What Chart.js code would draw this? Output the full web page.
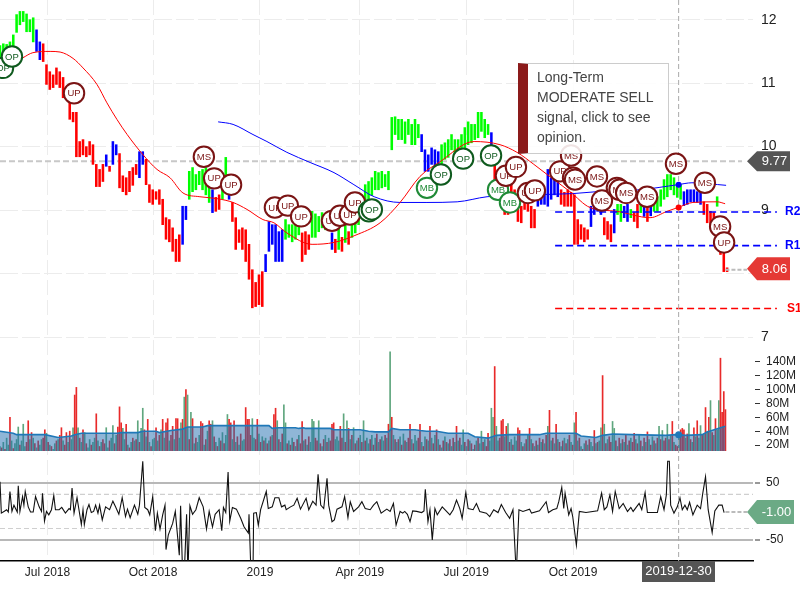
<!DOCTYPE html>
<html>
<head>
<meta charset="utf-8">
<title>Long-Term signal chart</title>
<style>
html, body { margin: 0; padding: 0; background: #fff; }
#wrap { position: relative; width: 800px; height: 600px; overflow: hidden; }
#opinion { position: absolute; left: 518px; top: 63px; width: 131px; height: 86px; padding: 3px 0 0 9px; border: 1px solid #ccc; border-left: 10px solid #8b1a1a; background: rgba(255,255,255,0.88); font: 14px/20px "Liberation Sans", Arial, sans-serif; color: #444; box-sizing: content-box; }
</style>
</head>
<body>
<div id="wrap">
<canvas id="chart" width="800" height="600"></canvas>
<div id="opinion">Long-Term<br>MODERATE SELL<br>signal, click to see<br>opinion.</div>
</div>
<script src="https://cdn.jsdelivr.net/npm/chart.js@4/dist/chart.umd.min.js"></script>
<script>
// x axis is counted in trading days from the left edge
const xTickDays = [28.6, 92.2, 156.6, 216.8, 280.8, 345.2];
const xTickLabels = ['Jul 2018', 'Oct 2018', '2019', 'Apr 2019', 'Jul 2019', 'Oct 2019'];
const lastDay = 453.6;
const cursorDay = 408.8;

// price bars, one every second trading day
const highs = [
  11.59,11.62,11.61,11.65,11.76,12.08,12.13,12.13,12.09,12.00,
  12.03,11.84,11.65,11.62,11.29,11.18,11.13,11.24,11.18,11.09,
  10.90,10.69,10.54,10.54,10.08,10.11,10.00,10.08,10.03,9.72,
  9.64,9.72,9.87,9.69,10.08,10.03,9.89,9.54,9.51,9.61,
  9.67,9.72,9.92,9.92,9.80,9.40,9.32,9.29,9.32,9.17,
  8.88,8.85,8.72,8.54,8.61,9.06,9.06,9.61,9.67,9.56,
  9.61,9.64,9.67,9.51,9.32,9.20,9.24,9.43,9.83,9.51,
  9.12,8.88,8.69,8.72,8.69,8.46,8.06,7.86,7.98,8.03,
  8.30,8.82,8.77,8.77,8.66,8.69,8.85,8.77,8.77,8.82,
  8.80,8.64,8.66,8.61,8.98,8.94,8.90,8.96,8.93,8.88,
  8.64,8.54,8.77,8.57,8.77,8.66,8.93,8.98,9.09,9.24,
  9.40,9.45,9.51,9.61,9.59,9.61,9.56,9.61,10.46,10.47,
  10.43,10.43,10.39,10.43,10.35,10.43,10.35,10.19,9.95,9.87,
  9.98,9.95,9.92,10.03,10.06,10.11,10.19,10.11,10.11,10.19,
  10.30,10.39,10.35,10.35,10.54,10.54,10.43,10.35,10.22,9.72,
  9.64,9.56,9.32,9.24,9.48,9.32,9.17,9.06,9.32,9.24,
  9.06,9.01,9.21,9.24,9.32,9.64,9.51,9.56,9.48,9.32,
  9.28,9.32,9.28,9.24,8.85,8.77,8.72,8.69,9.06,9.09,
  9.09,9.09,8.88,8.82,8.77,9.01,9.09,9.09,9.06,9.09,
  9.01,8.96,9.09,9.17,9.09,9.06,9.09,9.17,9.21,9.32,
  9.48,9.56,9.56,9.51,9.40,9.40,9.29,9.32,9.32,9.32,
  9.29,9.32,9.13,9.09,8.98,8.96,9.21,8.77,8.33,8.09
];
const lows = [
  11.34,11.40,11.37,11.50,11.56,11.80,11.92,11.97,11.81,11.81,
  11.65,11.50,11.37,11.34,10.98,10.90,10.93,10.98,10.93,10.77,
  10.74,10.43,10.39,9.84,9.84,9.87,9.84,9.87,9.72,9.37,
  9.37,9.45,9.69,9.61,9.72,9.87,9.35,9.29,9.24,9.29,
  9.39,9.56,9.51,9.72,9.40,9.12,9.09,9.17,9.09,8.77,
  8.54,8.50,8.35,8.19,8.19,8.46,8.85,9.17,9.29,9.32,
  9.40,9.32,9.24,9.12,8.96,8.98,9.01,9.17,9.51,9.17,
  8.82,8.38,8.49,8.38,8.19,7.91,7.46,7.48,7.51,7.48,
  8.03,8.35,8.46,8.19,8.19,8.19,8.54,8.57,8.50,8.54,
  8.61,8.19,8.30,8.38,8.57,8.57,8.66,8.72,8.69,8.69,
  8.38,8.33,8.38,8.35,8.49,8.46,8.57,8.64,8.77,8.93,
  9.09,9.17,9.23,9.32,9.32,9.35,9.37,9.32,9.95,10.19,
  10.11,10.11,10.05,10.19,10.03,10.03,10.14,9.92,9.61,9.61,
  9.72,9.56,9.61,9.72,9.80,9.83,9.95,9.87,9.87,9.87,
  9.98,10.03,10.06,10.11,10.14,10.24,10.14,10.19,10.03,9.24,
  9.24,9.17,8.93,8.93,9.09,9.01,8.82,8.80,9.01,8.98,
  8.72,8.72,9.06,9.09,9.09,9.06,9.17,9.24,9.21,9.09,
  9.06,9.06,9.06,8.46,8.46,8.54,8.50,8.54,8.74,8.93,
  8.98,8.93,8.61,8.54,8.50,8.64,8.93,8.82,8.88,8.82,
  8.88,8.82,8.72,8.96,8.90,8.82,8.91,8.98,8.98,9.06,
  9.17,9.21,9.32,9.24,9.20,9.17,9.07,9.09,9.13,9.13,
  9.12,9.09,8.93,8.80,8.77,8.80,9.06,8.30,8.03,8.03
];
const barSignals = [
  'gggggggggg','gbbrrrrrrr','rrrrrrrrrr','rrbrbbrrrr','rrbbrrrrrr','rrrrrbbggg',
  'ggggbrrggb','rrrrrrrrrr','bbbbbbgggg','grrrgggggg','brgrgrgggg','gggggggggg',
  'gggggggbbb','bbbggggggg','ggggggggbr','rrrrrrrrrr','rrbbbbbbbr','rrrrrrrrbb',
  'bbrrrbggbb','grrgbrbggg','ggggggbbbb','bbrrrrgrrr'
].join('');

// moving averages on the price pane
const slowAvgDays = [13.8,19.8,30.2,36.2,44,50,58.4,64.4,70.4,76.6,86.2,94.6,102.4,110.2,120.4,130.8,140.4,148.8,158.4,165,172.8,188,201.2,213.8,229,241,253,265,285.6,301.2,311.4,321.6,329.6,343.4,355.4,371.6,391.6,401.8,408.4,417.4,432,436.8];
const slowAvgValues = [11.40,11.48,11.50,11.49,11.39,11.24,10.98,10.69,10.43,10.19,9.87,9.64,9.51,9.27,9.21,9.18,9.12,9.01,8.85,8.80,8.64,8.46,8.49,8.60,8.80,9.12,9.53,9.76,10.08,10.03,9.91,9.72,9.56,9.29,9.04,8.98,8.88,8.98,9.04,9.12,9.13,9.10];
const longAvgDays = [131.4,140.4,152.4,160.8,172.8,186.8,201.2,213.2,225.4,241,257.2,275.4,293.4,319.2,345.2,359.6,385.6,408.4,416.8,437.4];
const longAvgValues = [10.39,10.35,10.19,10.08,9.91,9.75,9.59,9.40,9.21,9.12,9.12,9.13,9.21,9.24,9.26,9.29,9.32,9.40,9.43,9.39];

// reference levels
const lastPrice = 9.77;
const closePrice = 8.06;
const levelNames = ['R2', 'R1', 'S1'];
const levelValues = [8.97, 8.44, 7.45];
const levelFrom = 334.4;
const levelTo = 468;
const cursorSlow = 9.04;
const cursorLong = 9.40;

// signal badges, in drawing order
const signalDays = [1.8,7.2,44.6,122.8,129,139.2,165.6,173.4,181.4,200,204.8,210.8,213.8,222.2,224,257.2,265.6,279,295.8,300,304.8,307.2,310.8,318,322.2,337.4,344,345.2,346.4,359.6,362.6,371.6,373.2,377.2,389.8,407.2,424.6,433.8,436.2];
const signalValues = [11.24,11.42,10.84,9.84,9.50,9.40,9.04,9.07,8.90,8.83,8.91,8.93,9.12,8.98,9.01,9.35,9.56,9.81,9.86,9.32,9.54,9.12,9.68,9.27,9.31,9.61,9.86,9.51,9.48,9.53,9.15,9.35,9.32,9.27,9.21,9.73,9.43,8.74,8.49];
const signalNames = ['OP','OP','UP','MS','UP','UP','UP','UP','UP','UP','UP','UP','UP','OP','OP','MB','OP','OP','OP','MB','UP','MB','UP','UP','UP','UP','MS','MS','MS','MS','MS','MS','MS','MS','MS','MS','MS','MS','UP'];

// volume pane, in millions, one value per trading day
const volumes = [
  18,16,24,14,30,20,60,26,15,22,28,46,20,26,50,18,24,55,28,38,
  30,22,16,26,20,28,30,42,37,24,20,18,14,22,26,28,34,45,26,20,
  38,24,40,28,45,92,103,45,30,24,42,38,22,16,28,20,24,30,65,26,
  18,24,28,22,45,16,26,30,48,22,34,46,75,52,44,28,50,20,16,24,
  30,26,28,55,24,44,73,42,32,57,24,18,28,30,45,26,34,42,57,30,
  52,58,26,34,47,28,58,58,30,52,57,89,100,92,28,67,58,22,30,24,
  34,54,51,20,28,40,55,50,55,32,24,18,30,26,38,22,34,64,57,52,
  28,55,24,32,20,36,26,28,74,57,57,34,58,30,28,57,36,24,32,26,
  30,22,26,32,34,64,73,55,28,24,36,78,52,22,26,20,30,24,18,28,
  34,22,54,26,28,20,32,24,57,54,30,26,55,22,18,28,34,24,30,26,
  50,52,28,32,26,47,30,65,24,55,44,28,34,45,22,26,30,34,24,55,
  26,30,22,28,34,20,30,36,24,28,32,26,34,30,50,154,60,34,28,24,
  28,32,20,36,26,24,30,50,28,22,34,26,30,50,24,18,32,28,26,47,
  30,22,34,42,28,20,16,26,32,24,22,28,18,30,24,47,26,30,20,42,
  24,18,28,26,22,14,20,26,30,22,40,24,28,18,37,26,73,60,133,47,
  26,30,55,57,32,47,51,24,28,20,32,26,45,41,24,18,22,28,34,44,
  28,22,18,26,20,30,24,28,22,34,47,70,26,30,22,50,28,24,18,26,
  30,22,28,34,24,20,52,67,26,30,18,14,22,26,20,28,24,18,41,22,
  24,26,45,120,50,22,28,32,24,54,44,26,18,30,22,28,24,34,20,26,
  30,24,37,28,22,34,26,18,30,24,39,28,20,32,26,22,30,47,28,41,
  26,30,50,28,34,54,24,20,18,32,42,44,42,30,36,51,28,24,45,32,
  55,30,48,34,36,74,40,60,84,38,34,58,42,84,145,67,97,71
];
const volumeSides = [
  'grgrggrgrgggrgggrrgr','grgrggrrgrgrggrgrrgr','rgrggrrgrgrgrggrggrg','rgrrggrggrgrrrggrgrg',
  'rgrgrggrgrgrggrgrgrg','rrgrrgrrggrgrgrgrgrg','grrgrgrrgrgrgrgrggrr','grgrgrggrrrrggrrgrgr',
  'grgrgrrgrgrggrgrgrgr','grrgrgrgggrrgrgrgrgr','rrgggrrgrgrgrgrgrgrg','rggrgrgrgrggrgrgrgrg',
  'rgrgrgrrgrggrrgrgrgr','grgrgrgrgrgrgrgrgrgg','rgrgrgrgrggrgrrgggrg','grrrgrgrgrggrrgrgrgr',
  'grgrgrgrgrgrgrgrgrgr','grgrgrgrgrgrgrgrggrg','rggrgrgrrggrgrgrgrgr','grrgrgrgrgrgrgrgrgrg',
  'rrgrgrgrrgrrrgrgrgrg','rggrgrgrgrgrggrrrr'
].join('');
const volAvgDays = [0,8,10,27,35,43,45,49,71,73,83,86,94,96,103,110,113,122,125,137,162,164,168,178,180,183,184,199,201,217,222,226,234,236,241,250,253,257,263,270,282,286,294,299,307,325,329,347,350,359,363,369,381,401,407,413,423,426,434,437];
const volAvgValues = [40,37,35,35,31,33,35,37,37,38,38,40,40,38,41,43,46,46,48,48,48,44,45,45,44,45,44,44,42,42,40,39,39,44,42,42,41,40,40,37,37,32,30,34,35,35,37,37,33,31,34,36,35,34,35,34,35,39,45,47];
const volTicks = [20, 40, 60, 80, 100, 120, 140];

// oscillator pane
const oscTicks = [-50, 50];
const oscBand = 30;
const oscLast = -1;
const oscDays = [0,0.8,2.4,4,5,6,7.2,8.4,10.4,11,12,13.6,14.4,15.2,17,18.4,20,21.4,23.6,25,25.6,26.8,28,29.4,31,32.4,33.4,35.6,37.2,39.4,41.6,42.4,43.4,44.6,46.4,49,50,50.8,52.4,53.6,55,56.4,57.6,59,60,61.6,63.6,66,68,69.6,71.6,73.6,75.6,76.8,78.4,81,83,84,86,87.2,89,90.2,92,93.6,94.8,96.4,98,99.4,100,101.4,104,105.6,108,108.8,110,111,112.4,113.2,114.4,116,118,120,122.4,124.4,126,128,129.6,132,133.6,134.6,136,137.4,138.4,140,142.4,145,147,149.6,150,151.2,152.4,152.8,154.4,155.6,157,160.4,161.6,164,165.6,168,169.6,171.6,172.4,175,177,179,181,184.4,186,188.4,190.4,191.6,193.2,195,197,198,200,201.4,203,206,207.6,209.6,211,213,216,218,220,223,225,227,229.6,233,235,237,238.6,241,242.6,243.8,245.4,247,248.6,251,254,255.4,256.2,257.8,259,260.4,262,263.4,266.4,269,271,273,275,277,278.4,280.6,282,285,287,289,293,295,297.4,300,302,304.6,307,309,311,312.6,315,319,320.2,325,329,330.4,333,335.4,336.6,338.4,339.6,340.4,342.6,344,345,347.2,349,353,360,362.4,364,365.6,367.4,369,370.6,373,375.4,378,380,381.4,385,386.6,388.6,390,396,398,400,401.4,402.2,403.2,404,406,408,409.6,411,412.6,414,415.4,417.4,420,422,423.4,425,426.6,429,430.6,433,435,436.2];
const oscValues = [52,-3,0,3,-1,35,0,11,-1,45,0,26,11,35,8,-1,-1,26,8,0,32,-17,0,-6,3,28,3,3,7,-3,5,3,41,-3,24,-23,3,-23,3,12,-2,0,11,-3,11,-15,8,3,18,8,-5,24,-9,4,-11,11,-5,11,88,7,3,-6,26,-34,-3,-31,-6,11,-67,-41,-21,0,-77,10,-110,-110,-5,-110,10,-5,3,24,8,-31,0,-27,-5,3,-34,7,-2,69,-17,7,4,-12,-27,-38,-5,-110,-110,-3,-2,-24,3,35,5,8,24,24,8,11,3,8,11,23,4,23,3,18,11,65,11,5,58,11,-18,-15,4,8,26,-11,17,0,8,17,5,3,11,17,-3,4,0,14,-24,0,-3,0,-5,-18,1,0,-2,1,39,-18,3,-50,5,-6,8,0,-6,3,20,5,-12,33,5,3,14,0,-3,-9,3,-2,12,-2,-12,3,-110,3,0,4,-3,1,17,-2,3,5,17,42,5,32,-6,5,-9,-59,0,-2,1,32,3,8,29,0,35,5,14,0,7,0,14,3,33,-2,-2,26,3,29,88,88,11,-3,8,24,3,11,3,16,-6,11,5,33,61,3,-37,1,11,11,-2];

const FONT = '"Liberation Sans", Arial, sans-serif';
const barColor = { g: '#00ff00', b: '#0000ff', r: '#ff0000' };
const volColor = { g: '#5fa67e', r: '#e82a2a' };
const gridColor = '#ececec';

const priceBars = highs.map((h, i) => ({ x: i * 2, y: [lows[i], h] }));
const volumeBars = volumes.map((v, i) => ({ x: i, y: v }));
const zip = (xs, ys) => xs.map((x, i) => ({ x: x, y: ys[i] }));

function flag(ctx, y, w, h, color, text) {
  const left = 747;
  ctx.fillStyle = color;
  ctx.beginPath();
  ctx.moveTo(left, y);
  ctx.lineTo(left + 10, y - h / 2);
  ctx.lineTo(left + w, y - h / 2);
  ctx.lineTo(left + w, y + h / 2);
  ctx.lineTo(left + 10, y + h / 2);
  ctx.closePath();
  ctx.fill();
  ctx.fillStyle = '#fff';
  ctx.font = '13px ' + FONT;
  ctx.textAlign = 'center';
  ctx.textBaseline = 'middle';
  ctx.fillText(text, left + 6 + w / 2, y + 0.5);
}

// badges, cursor and price flags sit on top of the datasets
const overlay = {
  id: 'overlay',
  afterDraw(chart) {
    const ctx = chart.ctx;
    const xs = chart.scales.x, py = chart.scales.y, oy = chart.scales.yOsc;
    const cx = xs.getPixelForValue(cursorDay);
    ctx.save();

    ctx.strokeStyle = '#aaa';
    ctx.lineWidth = 1;
    ctx.setLineDash([5, 3]);
    ctx.beginPath();
    ctx.moveTo(cx, 0);
    ctx.lineTo(cx, xs.top);
    ctx.stroke();
    ctx.setLineDash([]);

    [[cursorLong, '#0000ff'], [cursorSlow, '#ff0000']].forEach(p => {
      ctx.fillStyle = p[1];
      ctx.beginPath();
      ctx.arc(cx, py.getPixelForValue(p[0]), 3, 0, Math.PI * 2);
      ctx.fill();
    });
    ctx.fillStyle = '#1f78b8';
    ctx.beginPath();
    ctx.arc(cx, chart.scales.yVol.getPixelForValue(35), 3.5, 0, Math.PI * 2);
    ctx.fill();

    const ringColor = { UP: '#7a1414', MS: '#7a1414', OP: '#0f5a1e', MB: '#1f8a36' };
    signalNames.forEach((name, i) => {
      const x = xs.getPixelForValue(signalDays[i]);
      const y = py.getPixelForValue(signalValues[i]);
      ctx.beginPath();
      ctx.arc(x, y, 10.2, 0, Math.PI * 2);
      ctx.fillStyle = '#fff';
      ctx.fill();
      ctx.lineWidth = 2;
      ctx.strokeStyle = ringColor[name];
      ctx.stroke();
      ctx.fillStyle = ringColor[name];
      ctx.font = '9.5px ' + FONT;
      ctx.textAlign = 'center';
      ctx.textBaseline = 'middle';
      ctx.fillText(name, x, y + 0.5);
    });

    levelNames.forEach((name, i) => {
      ctx.fillStyle = name[0] === 'R' ? '#0000ff' : '#ff0000';
      ctx.font = 'bold 12px ' + FONT;
      ctx.textAlign = 'left';
      ctx.textBaseline = 'middle';
      ctx.fillText(name, name[0] === 'R' ? 785 : 787, py.getPixelForValue(levelValues[i]));
    });

    // short leaders from the last bar out to the flags
    ctx.strokeStyle = '#bbb';
    ctx.setLineDash([4, 2]);
    ctx.beginPath();
    ctx.moveTo(xs.getPixelForValue(437), py.getPixelForValue(closePrice));
    ctx.lineTo(747, py.getPixelForValue(closePrice));
    ctx.moveTo(xs.getPixelForValue(437), oy.getPixelForValue(oscLast));
    ctx.lineTo(747, oy.getPixelForValue(oscLast));
    ctx.stroke();
    ctx.setLineDash([]);

    flag(ctx, py.getPixelForValue(lastPrice), 43, 20, '#555', lastPrice.toFixed(2));
    flag(ctx, py.getPixelForValue(closePrice) - 1, 43, 23, '#e53935', closePrice.toFixed(2));
    flag(ctx, oy.getPixelForValue(oscLast), 47, 24, '#6baa85', oscLast.toFixed(2));

    ctx.fillStyle = '#555';
    ctx.fillRect(642, 561, 73, 21);
    ctx.fillStyle = '#fff';
    ctx.font = '13px ' + FONT;
    ctx.textAlign = 'center';
    ctx.textBaseline = 'middle';
    ctx.fillText('2019-12-30', 678.5, 571);
    ctx.restore();
  }
};

const rightAxis = (extra) => Object.assign({
  position: 'right',
  stack: 'panes',
  afterFit(scale) {
    scale.width = 47;
    scale.paddingTop = 0;
    scale.paddingBottom = 0;
  }
}, extra);

new Chart(document.getElementById('chart').getContext('2d'), {
  plugins: [overlay],
  data: {
    datasets: [
      { type: 'bar', yAxisID: 'y', data: priceBars, order: 5, grouped: false, barThickness: 1.9,
        backgroundColor: priceBars.map((b, i) => barColor[barSignals[i]]) },
      { type: 'line', yAxisID: 'y', data: zip(slowAvgDays, slowAvgValues), order: 2, borderColor: '#ff0000', borderWidth: 1, pointRadius: 0, cubicInterpolationMode: 'monotone' },
      { type: 'line', yAxisID: 'y', data: zip(longAvgDays, longAvgValues), order: 2, borderColor: '#0000ff', borderWidth: 1, pointRadius: 0, cubicInterpolationMode: 'monotone' },
      { type: 'line', yAxisID: 'y', data: zip([0, 447], [lastPrice, lastPrice]), order: 6, borderColor: '#c8c8c8', borderWidth: 2, borderDash: [6, 3], pointRadius: 0, clip: false },
      ...levelValues.map((v, i) => ({
        type: 'line', yAxisID: 'y', data: zip([levelFrom, levelTo], [v, v]), order: 1,
        borderColor: levelNames[i][0] === 'R' ? '#0000ff' : '#ff0000',
        borderWidth: 1.6, borderDash: [7, 4], pointRadius: 0, clip: false
      })),
      { type: 'bar', yAxisID: 'yVol', data: volumeBars, order: 5, grouped: false, barThickness: 1,
        backgroundColor: volumeBars.map((b, i) => volColor[volumeSides[i]]) },
      { type: 'line', yAxisID: 'yVol', data: zip(volAvgDays, volAvgValues), order: 2, borderColor: '#1f78b8', borderWidth: 1.6,
        pointRadius: 0, fill: 'start', backgroundColor: 'rgba(31,110,175,0.5)' },
      { type: 'line', yAxisID: 'yOsc', data: zip([0, lastDay], [oscBand, oscBand]), order: 4, borderColor: '#cfcfcf', borderWidth: 1.2, borderDash: [5, 3], pointRadius: 0 },
      { type: 'line', yAxisID: 'yOsc', data: zip([0, lastDay], [-oscBand, -oscBand]), order: 4, borderColor: '#cfcfcf', borderWidth: 1.2, borderDash: [5, 3], pointRadius: 0 },
      { type: 'line', yAxisID: 'yOsc', data: zip(oscDays, oscValues), order: 2, borderColor: '#111', borderWidth: 1.1, pointRadius: 0 }
    ]
  },
  options: {
    responsive: false,
    animation: false,
    events: [],
    layout: { padding: 0 },
    plugins: { legend: { display: false }, tooltip: { enabled: false } },
    scales: {
      x: {
        type: 'linear', min: 0, max: lastDay, position: 'bottom', offset: false,
        afterFit(scale) {
          scale.height = 39;
          scale.paddingLeft = 0;
          scale.paddingRight = 0;
        },
        afterBuildTicks(scale) { scale.ticks = xTickDays.map(v => ({ value: v })); },
        grid: { color: gridColor, drawTicks: false, offset: false },
        border: { color: '#000', width: 1.4, dash: [15, 5] },
        ticks: {
          autoSkip: false, maxRotation: 0, padding: 4, color: '#222', font: { family: FONT, size: 12 },
          callback: (v, i) => xTickLabels[i]
        }
      },
      y: rightAxis({
        stackWeight: 337, min: 7, max: 12.31,
        afterBuildTicks(scale) { scale.ticks = [7, 8, 9, 10, 11, 12].map(v => ({ value: v })); },
        grid: { color: gridColor, drawTicks: false },
        border: { display: false, dash: [18, 4] },
        ticks: { autoSkip: false, padding: 8, color: '#222', font: { family: FONT, size: 14 }, callback: v => String(v) }
      }),
      yVol: rightAxis({
        stackWeight: 114, min: 11.5, max: 175.5,
        afterBuildTicks(scale) { scale.ticks = volTicks.map(v => ({ value: v })); },
        grid: { drawOnChartArea: false, tickLength: 7, tickColor: '#333', tickBorderDash: [0, 2, 5, 9] },
        border: { display: false },
        ticks: { autoSkip: false, padding: 6, color: '#222', font: { family: FONT, size: 12 }, callback: v => v + 'M' }
      }),
      yOsc: rightAxis({
        stackWeight: 110, min: -87, max: 106,
        afterBuildTicks(scale) { scale.ticks = oscTicks.map(v => ({ value: v })); },
        grid: { color: '#b8b8b8', lineWidth: 2, tickLength: 7, tickColor: '#333', tickWidth: 1, tickBorderDash: [0, 2, 5, 9] },
        border: { display: false },
        ticks: { autoSkip: false, padding: 6, color: '#222', font: { family: FONT, size: 12 }, callback: v => String(v) }
      })
    }
  }
});
</script>
</body>
</html>
